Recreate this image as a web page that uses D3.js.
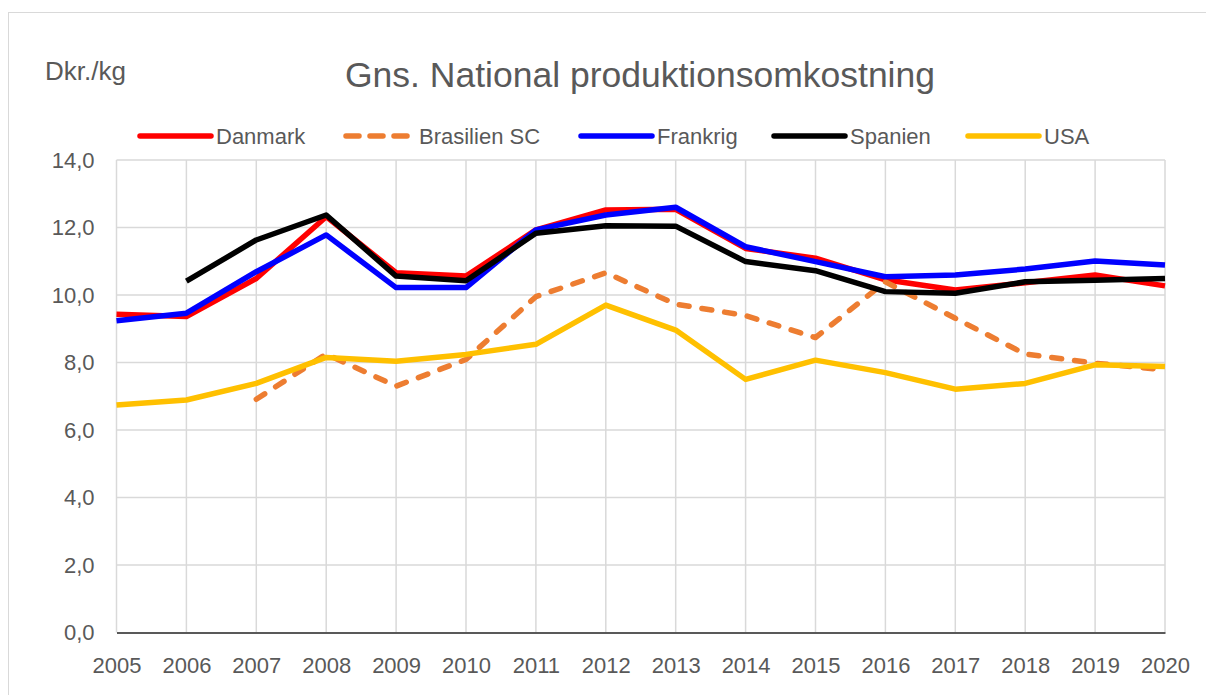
<!DOCTYPE html>
<html>
<head>
<meta charset="utf-8">
<script src="https://cdn.jsdelivr.net/npm/d3@7"></script>
<style>
body { margin: 0; background: #fff; }
svg { display: block; font-family: "Liberation Sans", Arial, sans-serif; }
</style>
</head>
<body>
<svg id="chart" width="1206" height="695"></svg>
<script>
/* data */
var years = [2005, 2006, 2007, 2008, 2009, 2010, 2011, 2012, 2013, 2014, 2015, 2016, 2017, 2018, 2019, 2020];
var danmark  = [9.43, 9.36, 10.49, 12.32, 10.66, 10.56, 11.93, 12.52, 12.54, 11.38, 11.09, 10.45, 10.15, 10.36, 10.59, 10.27];
var brasilien = [null, null, 6.91, 8.25, 7.30, 8.09, 9.95, 10.66, 9.73, 9.39, 8.74, 10.39, 9.31, 8.25, 7.98, 7.78];
var frankrig = [9.24, 9.46, 10.69, 11.78, 10.22, 10.22, 11.93, 12.37, 12.60, 11.43, 10.99, 10.54, 10.59, 10.77, 11.01, 10.89];
var spanien  = [null, 10.41, 11.63, 12.37, 10.56, 10.42, 11.83, 12.05, 12.04, 10.99, 10.72, 10.10, 10.05, 10.39, 10.44, 10.49];
var usa      = [6.74, 6.89, 7.38, 8.15, 8.04, 8.24, 8.54, 9.70, 8.96, 7.50, 8.07, 7.70, 7.21, 7.38, 7.93, 7.88];
var seriesNames = ["Danmark", "Brasilien SC", "Frankrig", "Spanien", "USA"];
var yTicks = [0, 2, 4, 6, 8, 10, 12, 14];

var series = [
	{name: seriesNames[0], values: danmark, color: "#FF0000", dash: null},
	{name: seriesNames[1], values: brasilien, color: "#ED7D31", dash: "10,13"},
	{name: seriesNames[2], values: frankrig, color: "#0000FF", dash: null},
	{name: seriesNames[3], values: spanien, color: "#000000", dash: null},
	{name: seriesNames[4], values: usa, color: "#FFC000", dash: null}
];

var svg = d3.select("#chart");
var pLeft = 116.5, pRight = 1165, pTop = 160, pBottom = 632.5;

// outer chart border
svg.append("rect")
	.attr("x", 8.5).attr("y", 12.5)
	.attr("width", 1210).attr("height", 700)
	.attr("fill", "none")
	.attr("stroke", "#d9d9d9")
	.attr("stroke-width", 1);

var x = d3.scaleLinear().domain([years[0], years[years.length-1]]).range([pLeft, pRight]);
var y = d3.scaleLinear().domain([0, 14]).range([pBottom, pTop]);

// gridlines
svg.append("g").selectAll("line").data(yTicks.slice(1)).enter().append("line")
	.attr("x1", pLeft).attr("x2", pRight)
	.attr("y1", function(d){ return y(d); }).attr("y2", function(d){ return y(d); })
	.attr("stroke", "#d9d9d9").attr("stroke-width", 1.5);
svg.append("g").selectAll("line").data(years).enter().append("line")
	.attr("x1", function(d){ return x(d); }).attr("x2", function(d){ return x(d); })
	.attr("y1", pTop).attr("y2", pBottom)
	.attr("stroke", "#d9d9d9").attr("stroke-width", 1.5);

// y axis labels
var yAxis = d3.axisLeft(y).tickValues(yTicks).tickSize(0).tickPadding(22)
	.tickFormat(function(d){ return d3.format(".1f")(d).replace(".", ","); });
var gy = svg.append("g").attr("transform", "translate(" + pLeft + ",0)").call(yAxis);
gy.select(".domain").remove();
gy.selectAll("text").attr("font-size", 22).attr("fill", "#595959")
	.attr("font-family", "Liberation Sans, Arial, sans-serif");

// x axis
var xAxis = d3.axisBottom(x).tickValues(years).tickSize(0).tickPadding(25).tickFormat(d3.format("d"));
var gx = svg.append("g").attr("transform", "translate(0," + pBottom + ")").call(xAxis);
gx.select(".domain").attr("stroke", "#595959").attr("stroke-width", 2);
gx.selectAll("text").attr("font-size", 22).attr("fill", "#595959")
	.attr("font-family", "Liberation Sans, Arial, sans-serif");

// lines
var line = d3.line()
	.defined(function(d){ return d[1] != null; })
	.x(function(d){ return x(d[0]); })
	.y(function(d){ return y(d[1]); });

for (var i = 0; i < series.length; i += 1){
	var s = series[i];
	var pts = years.map(function(yr, k){ return [yr, s.values[k]]; });
	svg.append("path")
		.datum(pts)
		.attr("d", line)
		.attr("fill", "none")
		.attr("stroke", s.color)
		.attr("stroke-width", 5.5)
		.attr("stroke-linejoin", "round")
		.attr("stroke-linecap", s.dash ? "round" : "butt")
		.attr("stroke-dasharray", s.dash);
}

// title and unit
svg.append("text")
	.attr("x", 640).attr("y", 87)
	.attr("text-anchor", "middle")
	.attr("font-size", 35.5).attr("fill", "#595959")
	.text("Gns. National produktionsomkostning");
svg.append("text")
	.attr("x", 45).attr("y", 80)
	.attr("font-size", 26).attr("fill", "#595959")
	.text("Dkr./kg");

// legend
var legendX = [140, 343, 581, 774, 968];
var legend = svg.append("g");
for (var i = 0; i < series.length; i += 1){
	var s = series[i];
	var lx = legendX[i];
	legend.append("line")
		.attr("x1", lx + (s.dash ? 3 : 0)).attr("x2", lx + (s.dash ? 67 : 71))
		.attr("y1", 136).attr("y2", 136)
		.attr("stroke", s.color).attr("stroke-width", 5.5)
		.attr("stroke-linecap", "round")
		.attr("stroke-dasharray", s.dash ? "13,11" : null);
	legend.append("text")
		.attr("x", lx + 76).attr("y", 144)
		.attr("font-size", 22).attr("fill", "#595959")
		.text(s.name);
}
</script>
</body>
</html>
